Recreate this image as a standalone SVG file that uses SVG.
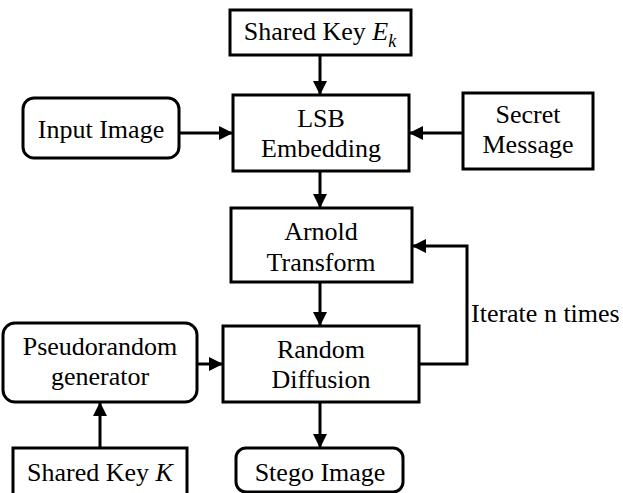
<svg xmlns="http://www.w3.org/2000/svg" width="623" height="493" viewBox="0 0 623 493">
<style>
.box{fill:#fff;stroke:#000;stroke-width:3}
text{font-family:'Liberation Serif','Times New Roman',Times,'DejaVu Serif',serif;font-size:26px;fill:#000;text-anchor:middle}
.c{fill:none;stroke:#000;stroke-width:3}
</style>
<defs>
<marker id="ah" markerUnits="userSpaceOnUse" markerWidth="14" markerHeight="14" refX="14" refY="7" orient="auto">
<path d="M0,0 L14,7 L0,14 z" fill="#000"/>
</marker>
</defs>
<rect width="623" height="493" fill="#fff"/>
<g id="connectors">
<path class="c" d="M320,55 V95" marker-end="url(#ah)"/>
<path class="c" d="M179,133 H233" marker-end="url(#ah)"/>
<path class="c" d="M463,133 H409" marker-end="url(#ah)"/>
<path class="c" d="M320,171 V208" marker-end="url(#ah)"/>
<path class="c" d="M320,282 V326" marker-end="url(#ah)"/>
<path class="c" d="M419,364 H467 V246 H412" marker-end="url(#ah)"/>
<path class="c" d="M197,364 H223" marker-end="url(#ah)"/>
<path class="c" d="M100,448 V402" marker-end="url(#ah)"/>
<path class="c" d="M320,402 V448" marker-end="url(#ah)"/>
<text x="471" y="322" font-family="Liberation Serif, serif" style="text-anchor:start">Iterate n times</text>
</g>
<g id="sharedKeyEk">
<rect class="box" x="230" y="10" width="181" height="45"/>
<text x="320" y="40" font-family="Liberation Serif, serif">Shared Key <tspan font-style="italic">E</tspan><tspan font-style="italic" font-size="18" dy="7">k</tspan></text>
</g>
<g id="lsb">
<rect class="box" x="233" y="95" width="176" height="76"/>
<text x="321" y="127" font-family="Liberation Serif, serif">LSB</text>
<text x="321" y="157" font-family="Liberation Serif, serif">Embedding</text>
</g>
<g id="inputImage">
<rect class="box" x="23" y="98" width="156" height="60" rx="11"/>
<text x="101" y="138" font-family="Liberation Serif, serif">Input Image</text>
</g>
<g id="secretMessage">
<rect class="box" x="463" y="93" width="130" height="76"/>
<text x="528" y="123" font-family="Liberation Serif, serif">Secret</text>
<text x="528" y="153" font-family="Liberation Serif, serif">Message</text>
</g>
<g id="arnold">
<rect class="box" x="231" y="208" width="181" height="74"/>
<text x="321" y="240" font-family="Liberation Serif, serif">Arnold</text>
<text x="321" y="271" font-family="Liberation Serif, serif">Transform</text>
</g>
<g id="randomDiffusion">
<rect class="box" x="223" y="326" width="196" height="76"/>
<text x="321" y="358" font-family="Liberation Serif, serif">Random</text>
<text x="321" y="388" font-family="Liberation Serif, serif">Diffusion</text>
</g>
<g id="pseudorandom">
<rect class="box" x="3" y="323" width="194" height="79" rx="12"/>
<text x="100" y="355" font-family="Liberation Serif, serif">Pseudorandom</text>
<text x="100" y="385" font-family="Liberation Serif, serif">generator</text>
</g>
<g id="sharedKeyK">
<rect class="box" x="13" y="448" width="174" height="50"/>
<text x="100" y="481" font-family="Liberation Serif, serif">Shared Key <tspan font-style="italic">K</tspan></text>
</g>
<g id="stegoImage">
<rect class="box" x="236" y="448" width="167" height="44" rx="10"/>
<text x="320" y="481" font-family="Liberation Serif, serif">Stego Image</text>
</g>
</svg>
